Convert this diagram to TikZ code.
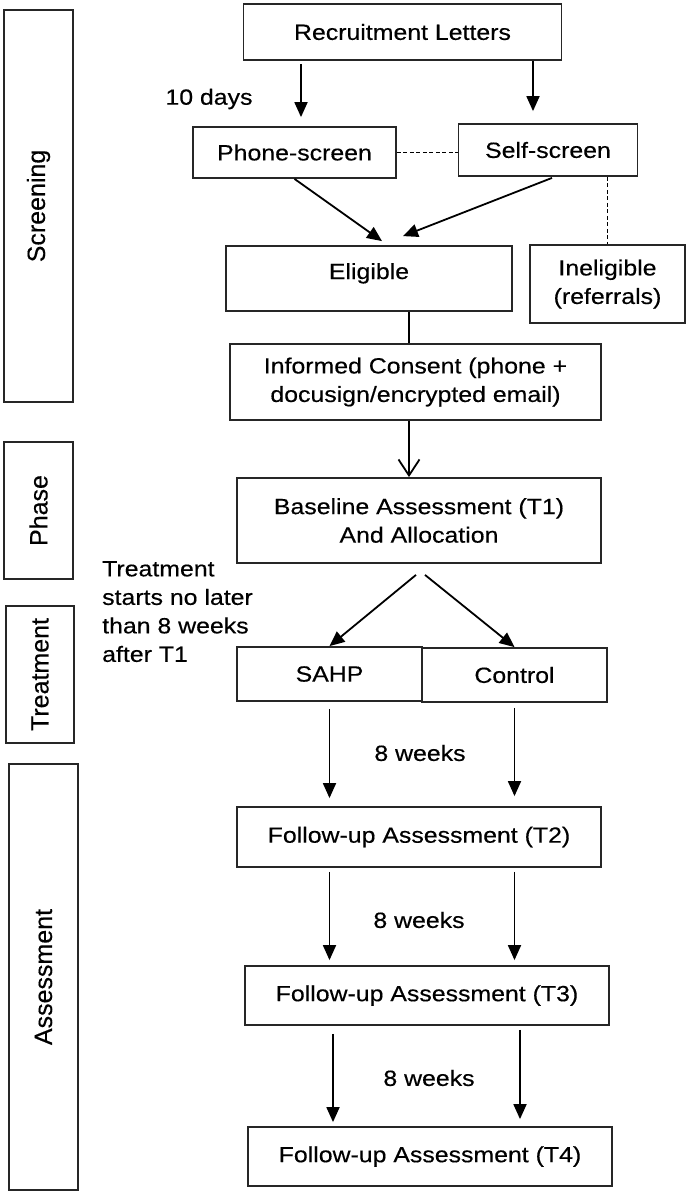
\documentclass[tikz,border=0pt]{standalone}
\usepackage{fontspec}
\setmainfont{Liberation Sans}[FakeStretch=1.13,FakeBold=0.4]
\newfontfamily\sidefont{Liberation Sans}[FakeBold=0.3]
\usetikzlibrary{arrows.meta,calc}
\begin{document}
\begin{tikzpicture}[x=1pt,y=-1pt,
  box/.style={draw=black!85, line width=1.8pt, rectangle, inner sep=0pt, align=center, font=\fontsize{22}{28.5}\selectfont},
  side/.style={draw=black!85, line width=1.8pt, rectangle, inner sep=0pt, rotate=90, font=\sidefont\fontsize{25}{30}\selectfont},
  arr/.style={line width=1.8pt, -{Triangle[length=15pt,width=13pt]}},
  openarr/.style={line width=1.8pt, -{Straight Barb[length=16pt,width=21pt,line width=1.8pt]}},
  link/.style={line width=1.8pt},
  dashlink/.style={line width=1.3pt, dash pattern=on 4pt off 2.5pt},
  lbl/.style={inner sep=0pt, font=\fontsize{22}{28.5}\selectfont}
]
\useasboundingbox (0,0) rectangle (688,1195);

% side phase boxes
\node[side, minimum width=392, minimum height=69] (screening) at (38.5,206) {Screening};
\node[side, minimum width=137, minimum height=69] (phase) at (38.5,510.5) {Phase};
\node[side, minimum width=137, minimum height=68] (treatment) at (40,674.5) {Treatment};
\node[side, minimum width=426, minimum height=69] (assessment) at (43.5,977) {Assessment};

% flow boxes
\node[box, minimum width=318, minimum height=56] (recruit) at (402.5,32) {Recruitment Letters};
\node[box, minimum width=203, minimum height=51] (phone) at (294.5,152.5) {Phone-screen};
\node[box, minimum width=179, minimum height=52] (self) at (548,150) {Self-screen};
\node[box, minimum width=286.5, minimum height=65, text height=16pt, text depth=15pt] (elig) at (369,278.5) {Eligible};
\node[box, minimum width=155, minimum height=78] (inelig) at (607.5,284) {Ineligible\\(referrals)};
\node[box, minimum width=371, minimum height=76] (consent) at (415.5,382) {Informed Consent (phone +\\docusign/encrypted email)};
\node[box, minimum width=364, minimum height=85] (base) at (419,520.5) {Baseline Assessment (T1)\\And Allocation};
\node[box, minimum width=185, minimum height=54] (sahp) at (329.5,674) {SAHP};
\node[box, minimum width=185, minimum height=54] (control) at (514.5,675) {Control};
\node[box, minimum width=364, minimum height=60] (t2) at (419,837) {Follow-up Assessment (T2)};
\node[box, minimum width=364, minimum height=59] (t3) at (427,995.5) {Follow-up Assessment (T3)};
\node[box, minimum width=364, minimum height=59] (t4) at (430,1156.5) {Follow-up Assessment (T4)};

% labels
\node[lbl] (d10) at (209,99) {10 days};
\node[lbl, align=left, anchor=north west] (tnote) at (102,561) {Treatment\\starts no later\\than 8 weeks\\after T1};
\node[lbl] (w1) at (420,753) {8 weeks};
\node[lbl] (w2) at (419,920) {8 weeks};
\node[lbl] (w3) at (429,1078) {8 weeks};

% connectors
\coordinate (xa) at (301,0);
\coordinate (xb) at (533,0);
\coordinate (xc) at (409,0);
\coordinate (xl) at (333,0);
\coordinate (xr) at (520,0);

\draw[arr, shorten <=3pt, shorten >=9pt] (recruit.south -| xa) -- (phone.north -| xa);
\draw[arr, shorten >=12pt] (recruit.south -| xb) -- (self.north -| xb);
\draw[arr] (phone.south) -- ($(elig.north)+(13,-4)$);
\draw[arr] ($(self.south)+(4,1)$) -- ($(elig.north)+(34,-9)$);
\draw[dashlink] (phone.east) -- (phone.east -| self.west);
\draw[dashlink] (inelig.north |- self.south) -- (inelig.north);
\draw[link] (elig.south -| xc) -- (consent.north -| xc);
\draw[openarr] (consent.south -| xc) -- (base.north -| xc);
\draw[arr] ($(base.south)+(-3,11)$) -- (sahp.north);
\draw[arr] ($(base.south)+(6,11)$) -- (control.north);
\draw[arr, shorten <=7pt, shorten >=8pt] (sahp.south) -- (sahp.south |- t2.north);
\draw[arr, shorten <=5pt, shorten >=10pt] (control.south) -- (control.south |- t2.north);
\draw[arr, shorten <=4pt, shorten >=5pt] (t2.south -| sahp.south) -- (t3.north -| sahp.south);
\draw[arr, shorten <=4pt, shorten >=5pt] (t2.south -| control.south) -- (t3.north -| control.south);
\draw[arr, shorten <=8pt, shorten >=4pt] (t3.south -| xl) -- (t4.north -| xl);
\draw[arr, shorten <=4pt, shorten >=7pt] (t3.south -| xr) -- (t4.north -| xr);
\end{tikzpicture}
\end{document}
